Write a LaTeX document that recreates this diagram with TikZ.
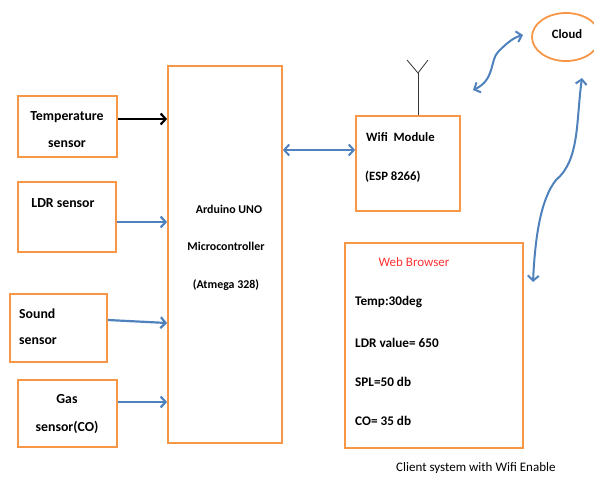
\documentclass[tikz,border=0pt]{standalone}
\usepackage{fontspec}
\setmainfont{Carlito}
\usetikzlibrary{arrows.meta,shapes.geometric}
\definecolor{boxor}{HTML}{F79646}
\definecolor{arblue}{HTML}{4F81BD}
\definecolor{webred}{HTML}{FF3333}
\tikzset{
  blk/.style={draw=boxor,line width=1.8pt,inner sep=0pt},
  txt/.style={font=\fontsize{13}{15}\selectfont,inner sep=0pt},
  stxt/.style={font=\bfseries\fontsize{13.8}{16}\selectfont,inner sep=0pt},
  atxt/.style={font=\bfseries\fontsize{11.9}{14}\selectfont,inner sep=0pt},
  wtxt/.style={font=\bfseries\fontsize{12.7}{15}\selectfont,inner sep=0pt},
  vtxt/.style={font=\bfseries\fontsize{13.2}{15}\selectfont,inner sep=0pt},
  barr/.style={draw=arblue,line width=2.2pt,-{Straight Barb[length=5pt,width=11pt]}},
  darr/.style={draw=arblue,line width=2pt,{Straight Barb[length=5pt,width=11pt]}-{Straight Barb[length=5pt,width=11pt]}},
  karr/.style={draw=black,line width=2.2pt,-{Straight Barb[length=5pt,width=11pt]}},
}
\begin{document}
\begin{tikzpicture}[x=1pt,y=-1pt]
\useasboundingbox (0,0) rectangle (594,477);
% boxes
\node[blk,minimum width=99pt,minimum height=61pt] (temp) at (67.5,126.5) {};
\node[blk,minimum width=98pt,minimum height=70pt] (ldr) at (67,217) {};
\node[blk,minimum width=97pt,minimum height=68pt] (sound) at (58.5,328) {};
\node[blk,minimum width=99pt,minimum height=67pt] (gas) at (67.5,413.5) {};
\node[blk,minimum width=114pt,minimum height=377pt] (ard) at (225,254.5) {};
\node[blk,minimum width=104pt,minimum height=95pt] (wifi) at (408,163.5) {};
\node[blk,minimum width=178pt,minimum height=205pt] (web) at (434,345.5) {};
\node[draw=boxor,line width=1.8pt,ellipse,minimum width=68pt,minimum height=48pt,inner sep=0pt] (cloud) at (566,37) {};
% texts
\node[stxt] (t1) at (67,117) {Temperature};
\node[stxt] (t2) at (67,144) {sensor};
\node[stxt] (l1) at (63,203) {LDR sensor};
\node[stxt,anchor=west] (s1) at (19,314) {Sound};
\node[stxt,anchor=west] (s2) at (19,341) {sensor};
\node[stxt] (g1) at (67,399) {Gas};
\node[stxt] (g2) at (67,427) {sensor(CO)};
\node[atxt] (a1) at (229,209) {Arduino UNO};
\node[atxt] (a2) at (226,246) {Microcontroller};
\node[atxt] (a3) at (226,285) {(Atmega 328)};
\node[wtxt,anchor=west] (w1) at (366,137) {Wifi\ \ Module};
\node[wtxt,anchor=west] (w2) at (365,177) {(ESP 8266)};
\node[wtxt] (c1) at (567,34) {Cloud};
\node[txt,text=webred] (wb) at (414,262) {Web Browser};
\node[vtxt,anchor=west] (v1) at (355,302) {Temp:30deg};
\node[vtxt,anchor=west] (v2) at (355,343) {LDR value= 650};
\node[vtxt,anchor=west] (v3) at (355,382) {SPL=50 db};
\node[vtxt,anchor=west] (v4) at (355,421) {CO= 35 db};
\node[txt,anchor=west] (cap) at (396,468) {Client system with Wifi Enable};
% antenna
\coordinate (ant) at (418,73);
\coordinate (antl) at (407,60);
\coordinate (antr) at (428,60);
\draw[line width=0.8pt,black!80] (wifi.north -| ant) -- (ant);
\draw[line width=0.8pt,black!80] (antl) -- (ant) -- (antr);
% connectors
\draw[karr] (temp.east |- 0,119) -- (ard.west |- 0,119);
\draw[barr] (ldr.east |- 0,222) -- (ard.west |- 0,222);
\draw[barr] (sound.east |- 0,320) -- (ard.west |- 0,323);
\draw[barr] (gas.east |- 0,402) -- (ard.west |- 0,402);
\draw[darr] (ard.east |- 0,150) -- (wifi.west |- 0,150);
\coordinate (wa) at (473,90);
\coordinate (wb2) at (523,35);
\draw[darr] (wa) .. controls (495,80) and (490,60) .. (498,52) .. controls (505,45) and (512,38) .. (wb2);
\coordinate (ca) at (582,78);
\coordinate (cb) at (533,282);
\draw[darr] (ca) .. controls (576,120) and (580,160) .. (556,180) .. controls (540,200) and (535,240) .. (cb);
\end{tikzpicture}
\end{document}
